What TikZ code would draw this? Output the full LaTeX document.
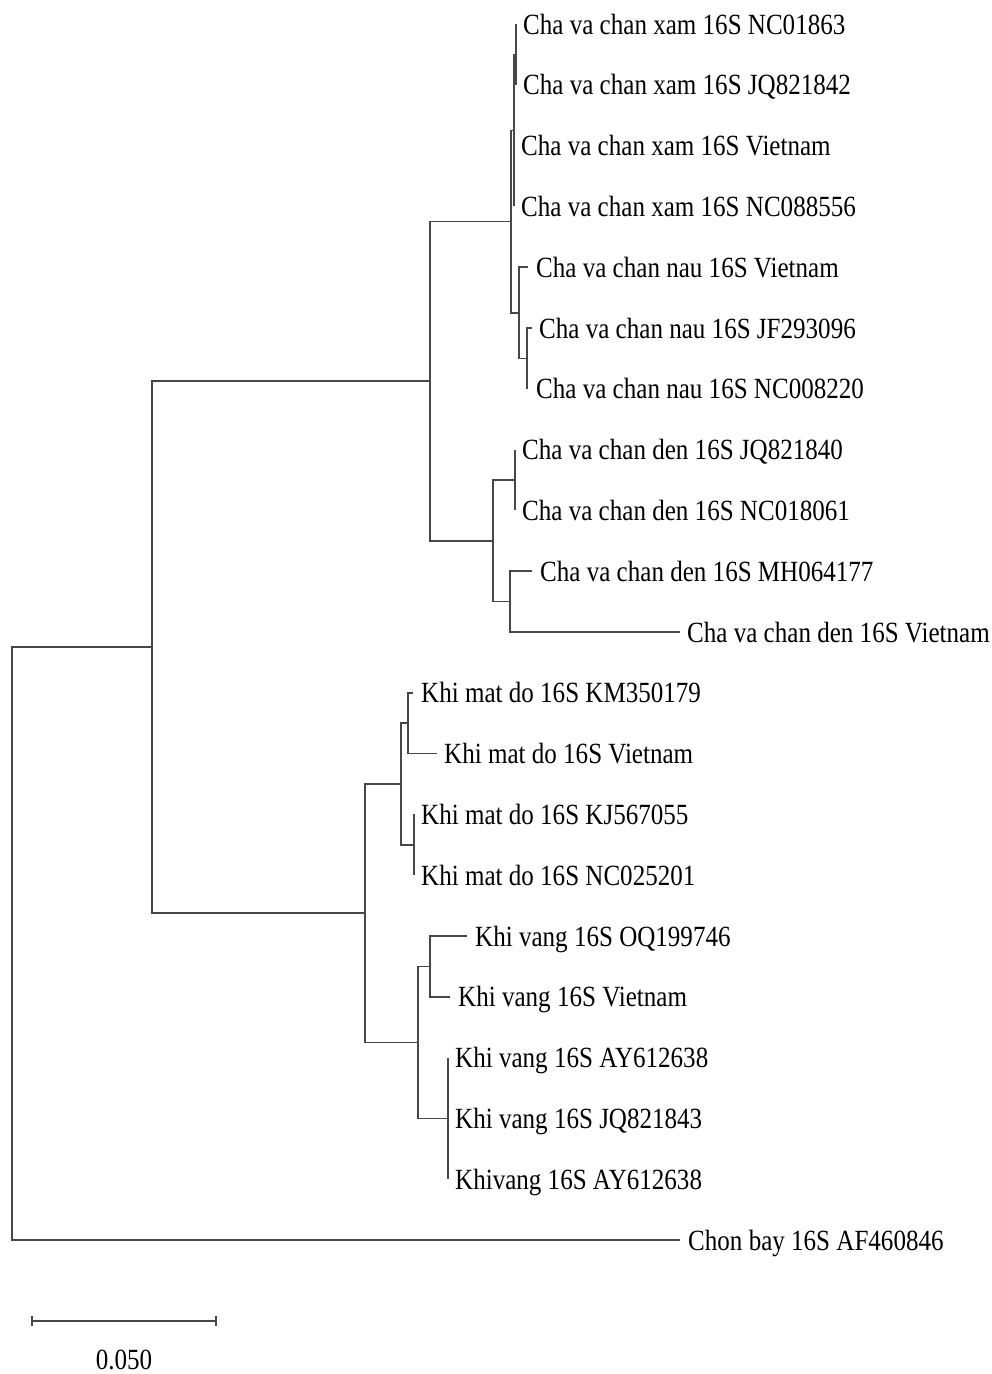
\documentclass[tikz,border=0pt]{standalone}
\usepackage{graphicx}
\usepackage{fontspec}
\setmainfont{Liberation Serif}
\newcommand\sxlab[1]{\scalebox{0.855}[1]{#1}}
\tikzset{
  br/.style={draw=black!72, line width=1.6pt},
  lab/.style={anchor=base west, inner sep=0pt, font=\fontsize{29.3}{29.3}\selectfont},
}
\begin{document}
\begin{tikzpicture}[x=1pt,y=-1pt]
\useasboundingbox (0,0) rectangle (991,1374);
% tips
\coordinate (t1) at (516,24);
\coordinate (t2) at (516,84.8);
\coordinate (t3) at (514,145.6);
\coordinate (t4) at (514,206.4);
\coordinate (t5) at (528,267.2);
\coordinate (t6) at (531.7,328);
\coordinate (t7) at (527,388.8);
\coordinate (t8) at (515,449.6);
\coordinate (t9) at (515,510.4);
\coordinate (t10) at (531.7,571.2);
\coordinate (t11) at (680,632);
\coordinate (t12) at (412.7,692.8);
\coordinate (t13) at (436.7,753.6);
\coordinate (t14) at (414,814.4);
\coordinate (t15) at (414,875.2);
\coordinate (t16) at (466.7,936);
\coordinate (t17) at (450,996.8);
\coordinate (t18) at (448,1057.6);
\coordinate (t19) at (448,1118.4);
\coordinate (t20) at (448,1179.2);
\coordinate (t21) at (680,1240);
% internal nodes
\coordinate (n12) at (516,54.4);
\coordinate (nB) at (514,130.4);
\coordinate (n67) at (527,358.4);
\coordinate (n5) at (519,312.8);
\coordinate (nA) at (511,221.6);
\coordinate (n89) at (515,480);
\coordinate (n1011) at (510,601.6);
\coordinate (nD) at (493,540.8);
\coordinate (nCha) at (430,381.2);
\coordinate (n1213) at (408,723.2);
\coordinate (n1415) at (414,844.8);
\coordinate (nM) at (401,784);
\coordinate (n1617) at (430,966.4);
\coordinate (n1820) at (448,1118.4);
\coordinate (nV) at (418,1042.4);
\coordinate (nK) at (365,913.2);
\coordinate (nIn) at (152,647.2);
\coordinate (root) at (12,943.6);
% branches
\draw[br] (n12) |- (t1); \draw[br] (n12) |- (t2);
\draw[br] (nB) |- (n12); \draw[br] (nB) |- (t3); \draw[br] (nB) |- (t4);
\draw[br] (n67) |- (t6); \draw[br] (n67) |- (t7);
\draw[br] (n5) |- (t5); \draw[br] (n5) |- (n67);
\draw[br] (nA) |- (nB); \draw[br] (nA) |- (n5);
\draw[br] (n89) |- (t8); \draw[br] (n89) |- (t9);
\draw[br] (n1011) |- (t10); \draw[br] (n1011) |- (t11);
\draw[br] (nD) |- (n89); \draw[br] (nD) |- (n1011);
\draw[br] (nCha) |- (nA); \draw[br] (nCha) |- (nD);
\draw[br] (n1213) |- (t12); \draw[br] (n1213) |- (t13);
\draw[br] (n1415) |- (t14); \draw[br] (n1415) |- (t15);
\draw[br] (nM) |- (n1213); \draw[br] (nM) |- (n1415);
\draw[br] (n1617) |- (t16); \draw[br] (n1617) |- (t17);
\draw[br] (n1820) |- (t18); \draw[br] (n1820) |- (t19); \draw[br] (n1820) |- (t20);
\draw[br] (nV) |- (n1617); \draw[br] (nV) |- (n1820);
\draw[br] (nK) |- (nM); \draw[br] (nK) |- (nV);
\draw[br] (nIn) |- (nCha); \draw[br] (nIn) |- (nK);
\draw[br] (root) |- (nIn); \draw[br] (root) |- (t21);
% labels
\node[lab] (L1) at (523,34) {\sxlab{Cha va chan xam 16S NC01863}};
\node[lab] (L2) at (523,94.8) {\sxlab{Cha va chan xam 16S JQ821842}};
\node[lab] (L3) at (521,155.6) {\sxlab{Cha va chan xam 16S Vietnam}};
\node[lab] (L4) at (521,216.4) {\sxlab{Cha va chan xam 16S NC088556}};
\node[lab] (L5) at (536,277.2) {\sxlab{Cha va chan nau 16S Vietnam}};
\node[lab] (L6) at (539,338) {\sxlab{Cha va chan nau 16S JF293096}};
\node[lab] (L7) at (536,398.8) {\sxlab{Cha va chan nau 16S NC008220}};
\node[lab] (L8) at (522,459.6) {\sxlab{Cha va chan den 16S JQ821840}};
\node[lab] (L9) at (522,520.4) {\sxlab{Cha va chan den 16S NC018061}};
\node[lab] (L10) at (540,581.2) {\sxlab{Cha va chan den 16S MH064177}};
\node[lab] (L11) at (687,642) {\sxlab{Cha va chan den 16S Vietnam}};
\node[lab] (L12) at (421,702.8) {\sxlab{Khi mat do 16S KM350179}};
\node[lab] (L13) at (444,763.6) {\sxlab{Khi mat do 16S Vietnam}};
\node[lab] (L14) at (421,824.4) {\sxlab{Khi mat do 16S KJ567055}};
\node[lab] (L15) at (421,885.2) {\sxlab{Khi mat do 16S NC025201}};
\node[lab] (L16) at (475,946) {\sxlab{Khi vang 16S OQ199746}};
\node[lab] (L17) at (458,1006.8) {\sxlab{Khi vang 16S Vietnam}};
\node[lab] (L18) at (455,1067.6) {\sxlab{Khi vang 16S AY612638}};
\node[lab] (L19) at (455,1128.4) {\sxlab{Khi vang 16S JQ821843}};
\node[lab] (L20) at (455,1189.2) {\sxlab{Khivang 16S AY612638}};
\node[lab] (L21) at (688,1250) {\sxlab{Chon bay 16S AF460846}};
% scale bar
\coordinate (sb1) at (32,1321);
\coordinate (sb2) at (216,1321);
\draw[br] (sb1) -- (sb2);
\draw[br] ([yshift=-5pt]sb1) -- ([yshift=5pt]sb1);
\draw[br] ([yshift=-5pt]sb2) -- ([yshift=5pt]sb2);
\node[anchor=base, inner sep=0pt, font=\fontsize{29.3}{29.3}\selectfont] (sbl) at (124,1369.5) {\sxlab{0.050}};
\end{tikzpicture}
\end{document}
